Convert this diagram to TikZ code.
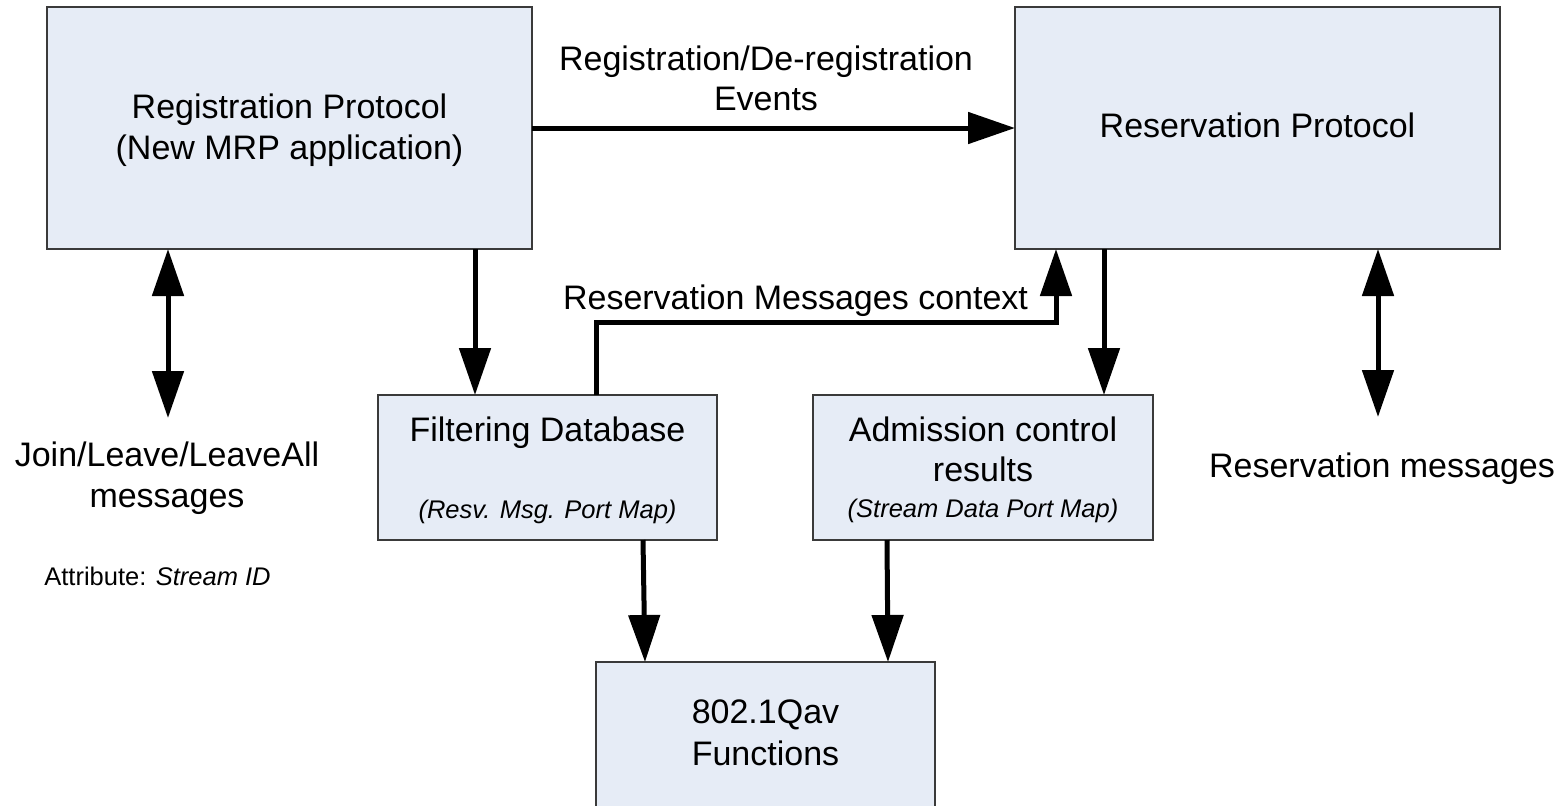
\documentclass[tikz,border=0pt]{standalone}
\usepackage{fontspec}
\setmainfont{Liberation Sans}
\usetikzlibrary{arrows.meta,calc}
\definecolor{boxfill}{HTML}{E6ECF6}
\definecolor{boxline}{HTML}{3A3A3A}
\tikzset{
  blk/.style={draw=boxline, line width=0.65pt, fill=boxfill, inner sep=0pt, outer sep=0pt},
  big/.style={font=\fontsize{17}{20}\selectfont, inner sep=0pt, anchor=base},
  small/.style={font=\fontsize{12.75}{15}\selectfont, inner sep=0pt, anchor=base},
  head/.tip={Triangle[length=23.5pt,width=15.5pt]},
  conn/.style={line width=2.5pt, -head},
  both/.style={line width=2.5pt, head-head},
}
\begin{document}
\begin{tikzpicture}[x=0.5pt,y=-0.5pt]
  \useasboundingbox (0,0) rectangle (1565,805);
  \clip (0,0) rectangle (1565,805);

  % blocks
  \node[blk, minimum width=242.5pt, minimum height=121pt] (regp) at (289.5,128) {};
  \node[blk, minimum width=242.5pt, minimum height=121pt] (resp) at (1257.5,128) {};
  \node[blk, minimum width=169.5pt, minimum height=72.5pt] (fdb) at (547.5,467.5) {};
  \node[blk, minimum width=170pt, minimum height=72.5pt] (adm) at (983,467.5) {};
  \node[blk, minimum width=169.5pt, minimum height=72.5pt] (qav) at (765.5,734.5) {};

  % block texts
  \node[big] (regpA) at (289.5,118) {Registration Protocol};
  \node[big] (regpB) at (289.5,159) {(New MRP application)};
  \node[big] (respA) at (1257.5,137.5) {Reservation Protocol};
  \node[big] (fdbA) at (547.5,441.5) {Filtering Database};
  \node[small] (fdbB) at (547.5,518) {\itshape (Resv. Msg. Port Map)};
  \node[big] (admA) at (983,441.5) {Admission control};
  \node[big] (admB) at (983,481.5) {results};
  \node[small] (admC) at (983,517) {\itshape (Stream Data Port Map)};
  \node[big] (qavA) at (765.5,723.5) {802.1Qav};
  \node[big] (qavB) at (765.5,765) {Functions};

  % free labels
  \node[big] (evA) at (766,70) {Registration/De-registration};
  \node[big] (evB) at (766,110) {Events};
  \node[big] (ctx) at (795.5,309) {Reservation Messages context};
  \node[big] (jlA) at (167,466.5) {Join/Leave/LeaveAll};
  \node[big] (jlB) at (167,507) {messages};
  \node[small, anchor=base west] (attr) at (44,585) {Attribute: \textit{Stream ID}};
  \node[big] (rmsg) at (1382,477.3) {Reservation messages};

  % free ends of the two-way links
  \coordinate (jlend) at (168,418);
  \coordinate (rmend) at (1378,417);

  % connectors
  \draw[conn] (regp.east) -- (resp.west);
  \draw[conn] ($(regp.south)+(185.5,0)$) -- ($(fdb.north)+(-72.5,0)$);
  \draw[conn] ($(fdb.north)+(48.5,0)$) -- ++(0,-73) -| ($(resp.south)+(-201.5,0)$);
  \draw[conn] ($(resp.south)+(-153.5,0)$) -- ($(adm.north)+(121,0)$);
  \draw[both] ($(regp.south)+(-121.5,0)$) -- (jlend);
  \draw[both] ($(resp.south)+(120.5,0)$) -- (rmend);
  \draw[conn] ($(fdb.south)+(95.5,0)$) -- ($(qav.north)+(-120.5,0)$);
  \draw[conn] ($(adm.south)+(-96,0)$) -- ($(qav.north)+(122.5,0)$);
\end{tikzpicture}
\end{document}
